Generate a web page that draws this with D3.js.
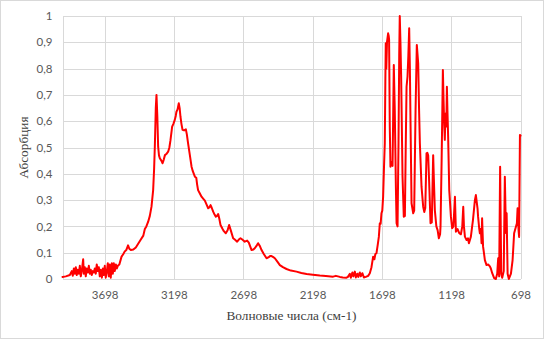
<!DOCTYPE html>
<html>
<head>
<meta charset="utf-8">
<script src="https://cdn.jsdelivr.net/npm/d3@7"></script>
<style>
  html, body { margin: 0; padding: 0; background: #ffffff; }
  svg { display: block; }
</style>
</head>
<body>
<script>
// ---- data ----
const wavenumbers = [
4002,3978,3949,3935,3928,3920,3913,3906,3899,3892,3884,3877,3870,3863,3853,3848,3841,3834,3827,3819,
3812,3805,3798,3791,3783,3776,3769,3762,3755,3747,3740,3733,3726,3718,3711,3704,3697,3690,3682,3675,
3668,3661,3654,3646,3639,3632,3625,3617,3610,3603,3592,3576,3563,3553,3542,3529,3520,3509,3491,3473,
3455,3437,3419,3408,3397,3384,3372,3360,3348,3341,3336,3329,3324,3318,3312,3306,3300,3289,3280,3271,
3263,3253,3240,3231,3223,3211,3202,3192,3185,3180,3172,3163,3157,3151,3144,3136,3125,3112,3105,3096,
3083,3071,3062,3047,3037,3031,3024,3011,2999,2986,2975,2964,2951,2943,2934,2925,2915,2905,2896,2887,
2879,2871,2862,2849,2838,2824,2811,2800,2788,2771,2759,2742,2730,2718,2705,2687,2670,2658,2638,2625,
2615,2600,2591,2578,2566,2550,2530,2517,2505,2494,2481,2470,2452,2434,2412,2386,2355,2314,2279,2241,
2196,2146,2102,2050,2030,2001,1980,1953,1943,1929,1922,1911,1904,1893,1886,1875,1868,1857,1850,1839,
1828,1814,1797,1785,1773,1761,1752,1745,1737,1728,1720,1713,1707,1701,1695,1689,1683,1677,1673,1670,
1666,1661,1653,1649,1646,1641,1636,1632,1627,1621,1617,1612,1605,1597,1592,1585,1578,1573,1569,1564,
1559,1549,1540,1532,1526,1520,1513,1507,1501,1496,1491,1484,1472,1465,1455,1446,1436,1430,1424,1412,
1400,1392,1385,1376,1370,1364,1357,1347,1338,1328,1323,1316,1305,1296,1287,1278,1275,1267,1263,1258,
1253,1249,1244,1240,1236,1233,1229,1225,1220,1212,1200,1191,1182,1176,1171,1164,1152,1140,1128,1118,
1111,1106,1099,1087,1077,1070,1056,1041,1027,1020,1008,1004,996,991,984,979,975,968,962,955,
943,930,919,912,902,888,876,866,859,852,845,837,830,819,811,803,798,791,782,767,
755,744,734,724,719,712,708,702,698
];
const absorbance = [
0.008,0.010,0.015,0.030,0.012,0.040,0.020,0.045,0.015,0.035,0.020,0.050,0.010,0.030,0.075,0.020,0.045,0.010,0.040,0.025,
0.050,0.020,0.035,0.015,0.030,0.025,0.040,0.020,0.055,0.030,0.045,0.010,0.035,0.005,0.040,0.015,0.050,0.005,0.030,0.060,
0.010,0.055,0.005,0.060,0.020,0.060,0.030,0.055,0.040,0.050,0.055,0.085,0.095,0.105,0.110,0.128,0.115,0.110,0.112,0.120,
0.135,0.150,0.165,0.190,0.200,0.218,0.240,0.275,0.338,0.420,0.503,0.650,0.700,0.620,0.503,0.470,0.459,0.450,0.440,0.455,
0.471,0.475,0.484,0.500,0.528,0.579,0.590,0.605,0.620,0.636,0.645,0.668,0.650,0.617,0.590,0.567,0.565,0.569,0.550,0.516,
0.470,0.427,0.410,0.389,0.385,0.360,0.338,0.325,0.313,0.305,0.298,0.285,0.269,0.272,0.281,0.270,0.256,0.245,0.237,0.240,
0.247,0.230,0.205,0.192,0.182,0.174,0.185,0.205,0.185,0.155,0.150,0.142,0.150,0.155,0.150,0.142,0.146,0.138,0.110,0.112,
0.117,0.128,0.136,0.125,0.110,0.095,0.079,0.082,0.087,0.087,0.083,0.079,0.066,0.053,0.045,0.038,0.032,0.028,0.023,0.019,
0.016,0.013,0.011,0.009,0.012,0.008,0.006,0.005,0.008,0.020,0.005,0.025,0.010,0.028,0.006,0.020,0.008,0.025,0.010,0.022,
0.006,0.008,0.012,0.022,0.045,0.085,0.075,0.095,0.098,0.130,0.160,0.212,0.210,0.250,0.260,0.313,0.420,0.516,0.750,0.896,
0.800,0.902,0.934,0.925,0.910,0.579,0.427,0.445,0.440,0.430,0.600,0.814,0.643,0.350,0.212,0.200,0.520,0.850,1.000,0.900,
0.770,0.389,0.237,0.240,0.500,0.731,0.770,0.850,0.953,0.800,0.579,0.288,0.250,0.260,0.643,0.890,0.820,0.650,0.516,0.351,
0.275,0.255,0.270,0.478,0.480,0.470,0.370,0.212,0.215,0.471,0.380,0.262,0.200,0.186,0.155,0.170,0.199,0.450,0.600,0.795,
0.680,0.600,0.529,0.620,0.630,0.580,0.731,0.640,0.541,0.338,0.237,0.193,0.200,0.260,0.313,0.180,0.190,0.174,0.170,0.200,
0.275,0.200,0.161,0.148,0.155,0.136,0.161,0.224,0.300,0.319,0.269,0.237,0.193,0.174,0.190,0.136,0.231,0.123,0.100,0.072,
0.053,0.055,0.048,0.040,0.022,0.003,0.000,0.020,0.079,0.010,0.427,0.020,0.005,0.030,0.389,0.175,0.250,0.020,0.000,0.020,
0.072,0.174,0.193,0.212,0.269,0.186,0.160,0.548,0.545
];
const xTickValues = [3698, 3198, 2698, 2198, 1698, 1198, 698];
const yTickValues = [0, 0.1, 0.2, 0.3, 0.4, 0.5, 0.6, 0.7, 0.8, 0.9, 1];
const xDomain = [4002, 698];
const yDomain = [0, 1];
const xTitle = "Волновые числа (см-1)";
const yTitle = "Абсорбция";

// ---- layout ----
const W = 545, H = 340;
const plot = { left: 62.5, right: 520.5, top: 16, bottom: 279 };

const svg = d3.select("body").append("svg").attr("width", W).attr("height", H);

svg.append("rect").attr("x", 0.5).attr("y", 0.5).attr("width", 543).attr("height", 338)
  .attr("fill", "#fff").attr("stroke", "#d9d9d9").attr("stroke-width", 1);

const x = d3.scaleLinear().domain(xDomain).range([plot.left, plot.right]);
const y = d3.scaleLinear().domain(yDomain).range([plot.bottom, plot.top]);

const locale = d3.formatLocale({ decimal: ",", thousands: " ", grouping: [3], currency: ["", ""] });
const fmtY = v => (v === 0 || v === 1) ? String(v) : locale.format(".1f")(v);

// gridlines
const grid = svg.append("g").attr("stroke", "#d9d9d9").attr("stroke-width", 1).attr("shape-rendering", "crispEdges");
grid.selectAll("line.h").data(yTickValues).join("line")
  .attr("x1", plot.left).attr("x2", plot.right)
  .attr("y1", d => Math.round(y(d)) + 0.5).attr("y2", d => Math.round(y(d)) + 0.5);
grid.selectAll("line.v").data([xDomain[0]].concat(xTickValues)).join("line")
  .attr("y1", plot.top).attr("y2", plot.bottom)
  .attr("x1", d => Math.round(x(d)) + 0.5).attr("x2", d => Math.round(x(d)) + 0.5);

// axes (labels only)
const tickFont = "Lato, 'Liberation Sans', sans-serif";
const xAxis = svg.append("g").attr("transform", `translate(0,${plot.bottom})`)
  .call(d3.axisBottom(x).tickValues(xTickValues).tickSize(0).tickPadding(12).tickFormat(d3.format("d")));
xAxis.select(".domain").remove();
xAxis.selectAll("text").attr("fill", "#595959").style("font-family", tickFont).style("font-size", "11.5px");

const yAxis = svg.append("g").attr("transform", `translate(${plot.left},0)`)
  .call(d3.axisLeft(y).tickValues(yTickValues).tickSize(0).tickPadding(10).tickFormat(fmtY));
yAxis.select(".domain").remove();
yAxis.selectAll("text").attr("fill", "#595959").style("font-family", tickFont).style("font-size", "11.5px");

// spectrum line
const pts = wavenumbers.map((w, i) => [w, absorbance[i]]);
const line = d3.line().x(d => x(d[0])).y(d => y(d[1]));
svg.append("path").datum(pts).attr("d", line)
  .attr("fill", "none").attr("stroke", "#ff0000").attr("stroke-width", 2)
  .attr("stroke-linejoin", "round").attr("stroke-linecap", "round");

// titles
svg.append("text").attr("x", (plot.left + plot.right) / 2).attr("y", 320)
  .attr("text-anchor", "middle").attr("fill", "#404040")
  .style("font-family", "'Liberation Serif', 'Times New Roman', serif").style("font-size", "13.3px")
  .text(xTitle);
svg.append("text").attr("transform", `translate(28,${(plot.top + plot.bottom) / 2}) rotate(-90)`)
  .attr("text-anchor", "middle").attr("fill", "#404040")
  .style("font-family", "'Liberation Serif', 'Times New Roman', serif").style("font-size", "13.3px")
  .text(yTitle);
</script>
</body>
</html>
